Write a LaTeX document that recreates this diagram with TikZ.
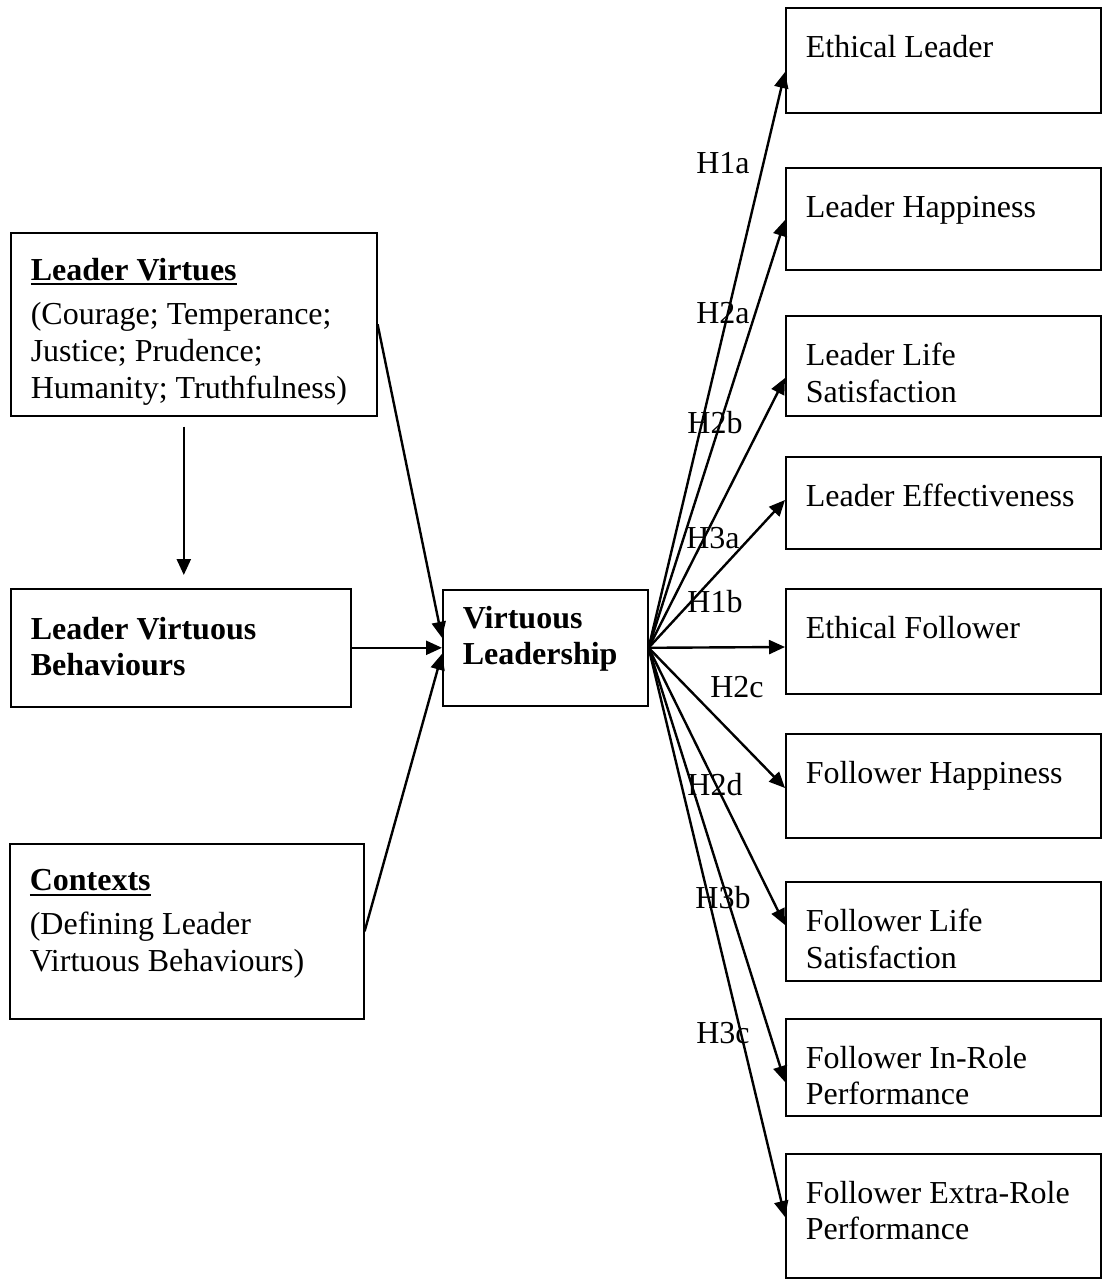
\documentclass[tikz,border=0pt]{standalone}
\usepackage{fontspec}
\setmainfont{Liberation Serif}
\usetikzlibrary{arrows.meta}
\newcommand{\ulbox}[1]{\leavevmode\vtop{\hbox{#1}\kern1.5pt\hrule height 1pt}}

\begin{document}
\begin{tikzpicture}[x=1pt, y=-1pt,
    font=\fontsize{16}{18.4}\selectfont,
    cell/.style={draw, line width=0.8pt, anchor=north west, inner xsep=10pt, inner ysep=13.5pt},
    arr/.style={-{Triangle[length=8pt,width=7pt]}, line width=1.2pt},
    hyp/.style={inner sep=0pt}]
    \useasboundingbox (0,0) rectangle (551,639.5);

    % Antecedents
    \node[cell, inner ysep=12.5pt] (lv) at (5,116) {\parbox[c][66.5pt][t]{163pt}{\textbf{\ulbox{Leader Virtues}}\\[4pt](Courage; Temperance;\\Justice; Prudence;\\Humanity; Truthfulness)}};
    \node[cell, inner ysep=14pt] (lb) at (5,294) {\parbox[c][31pt][t]{150pt}{\textbf{Leader Virtuous\\Behaviours}}};
    \node[cell, inner ysep=13pt] (ct) at (4.5,421.5) {\parbox[c][61.5pt][t]{157pt}{\textbf{\ulbox{Contexts}}\\[3.5pt](Defining Leader\\Virtuous Behaviours)}};

    % Virtuous Leadership
    \node[cell, inner ysep=8pt] (vl) at (221,294.5) {\parbox[c][42pt][t]{82.5pt}{\textbf{Virtuous\\Leadership}}};

    % Outcomes
    \node[cell] (el) at (392.5,3.5) {\parbox[c][25.5pt][t]{137.5pt}{Ethical Leader}};
    \node[cell] (lh) at (392.5,83.5) {\parbox[c][24pt][t]{137.5pt}{Leader Happiness}};
    \node[cell] (ll) at (392.5,157.5) {\parbox[c][23pt][t]{137.5pt}{Leader Life\\Satisfaction}};
    \node[cell] (le) at (392.5,228) {\parbox[c][19pt][t]{137.5pt}{Leader Effectiveness}};
    \node[cell] (ef) at (392.5,294) {\parbox[c][25.5pt][t]{137.5pt}{Ethical Follower}};
    \node[cell] (fh) at (392.5,366.5) {\parbox[c][25pt][t]{137.5pt}{Follower Happiness}};
    \node[cell] (fl) at (392.5,440.5) {\parbox[c][22.5pt][t]{137.5pt}{Follower Life\\Satisfaction}};
    \node[cell] (fi) at (392.5,509) {\parbox[c][21.5pt][t]{137.5pt}{Follower In-Role\\Performance}};
    \node[cell] (fe) at (392.5,576.5) {\parbox[c][35pt][t]{137.5pt}{Follower Extra-Role\\Performance}};

    % Arrows into Virtuous Leadership
    \draw[arr] ([xshift=-5pt,yshift=-5pt]lv.south) -- ([xshift=1.5pt,yshift=6.5pt]lb.north);
    \draw[arr] (lv.east) -- ([yshift=5pt]vl.west);
    \draw[arr] (lb.east) -- (vl.west);
    \draw[arr] (ct.east) -- ([yshift=-3pt]vl.west);

    % Arrows to outcomes
    \foreach \n/\d in {el/32.5pt, lh/26.5pt, ll/31.5pt, le/22pt, ef/29.5pt, fh/27.5pt, fl/22pt, fi/32pt, fe/32pt}
        \draw[arr] (vl.east) -- ([yshift=-\d]\n.north west);

    % Hypotheses
    \node[hyp] (h1a) at (361.5,81.5) {H1a};
    \node[hyp] (h2a) at (361.5,156.5) {H2a};
    \node[hyp] (h2b) at (357.5,211.5) {H2b};
    \node[hyp] (h3a) at (356.5,269) {H3a};
    \node[hyp] (h1b) at (357.5,301) {H1b};
    \node[hyp] (h2c) at (368.5,343.5) {H2c};
    \node[hyp] (h2d) at (357.5,392.5) {H2d};
    \node[hyp] (h3b) at (361.5,449) {H3b};
    \node[hyp] (h3c) at (361.5,516.5) {H3c};
\end{tikzpicture}
\end{document}
